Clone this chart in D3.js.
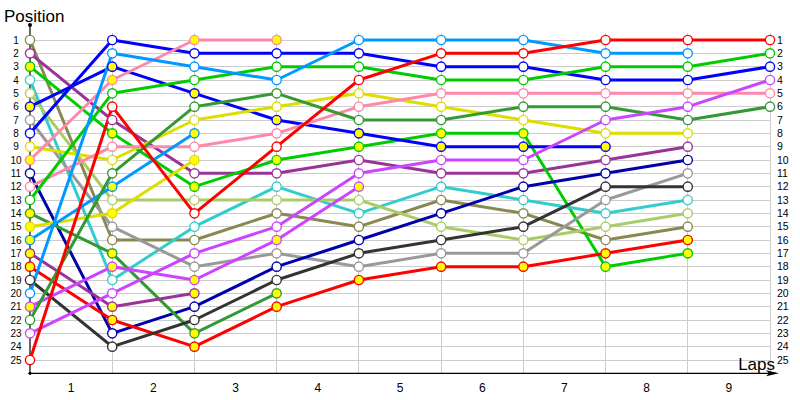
<!DOCTYPE html>
<html>
<head>
<meta charset="utf-8">
<script src="https://cdn.jsdelivr.net/npm/d3@7"></script>
<style>
  html, body { margin: 0; padding: 0; background: #fff; }
  svg { display: block; }
</style>
</head>
<body>
<svg id="chart" width="800" height="400"></svg>
<script>
// ---- data ----
const lapLabels = ["1", "2", "3", "4", "5", "6", "7", "8", "9"];
const positionLabels = d3.range(1, 26);

// positions per lap (lap 0 = start), series end when they stop
const olive       = [1, 16, 16, 14, 15, 13, 14, 16, 15];
const purpleA     = [2, 7, 11, 11, 10, 11, 11, 10, 9];
const greenB      = [3, 8, 12, 10, 9, 8, 8, 18, 17];
const cyan        = [4, 19, 15, 12, 14, 12, 13, 14, 13];
const lightOlive  = [5, 13, 13, 13, 13, 15, 16, 15, 14];
const blueB       = [6, 3, 5, 7, 8, 9, 9, 9];
const gray        = [7, 15, 18, 17, 18, 17, 17, 13, 11];
const blueA       = [8, 1, 2, 2, 2, 3, 3, 4, 4, 3];
const yellowA     = [9, 10, 7, 6, 5, 6, 7, 8, 8];
const pinkB       = [10, 4, 1, 1];
const darkBlue    = [11, 23, 21, 18, 16, 14, 12, 11, 10];
const pinkA       = [12, 9, 9, 8, 6, 5, 5, 5, 5, 5];
const greenA      = [13, 5, 4, 3, 3, 4, 4, 3, 3, 2];
const darkGreenB  = [14, 17, 23, 20];
const yellowB     = [15, 14, 10];
const lightBlueB  = [16, 12, 8];
const purpleB     = [17, 21, 20];
const redB        = [18, 22, 24, 21, 19, 18, 18, 17, 16];
const darkGray    = [19, 24, 22, 19, 17, 16, 15, 12, 12];
const lightBlueA  = [20, 2, 3, 4, 1, 1, 1, 2, 2];
const magentaB    = [21, 18, 19, 16, 12];
const darkGreenA  = [22, 11, 6, 5, 7, 7, 6, 6, 7, 6];
const magentaA    = [23, 20, 17, 15, 11, 10, 10, 7, 6, 4];
const redA        = [25, 6, 14, 9, 4, 2, 2, 1, 1, 1];

// second driver of a team (drawn with filled markers)
const seriesList = [
  {name: "olive", values: olive, second: false},
  {name: "purple", values: purpleA, second: false},
  {name: "green", values: greenB, second: true},
  {name: "cyan", values: cyan, second: false},
  {name: "lightOlive", values: lightOlive, second: false},
  {name: "blue", values: blueB, second: true},
  {name: "gray", values: gray, second: false},
  {name: "blue", values: blueA, second: false},
  {name: "yellow", values: yellowA, second: false},
  {name: "pink", values: pinkB, second: true},
  {name: "darkBlue", values: darkBlue, second: false},
  {name: "pink", values: pinkA, second: false},
  {name: "green", values: greenA, second: false},
  {name: "darkGreen", values: darkGreenB, second: true},
  {name: "yellow", values: yellowB, second: true},
  {name: "lightBlue", values: lightBlueB, second: true},
  {name: "purple", values: purpleB, second: true},
  {name: "red", values: redB, second: true},
  {name: "darkGray", values: darkGray, second: false},
  {name: "lightBlue", values: lightBlueA, second: false},
  {name: "magenta", values: magentaB, second: true},
  {name: "darkGreen", values: darkGreenA, second: false},
  {name: "magenta", values: magentaA, second: false},
  {name: "red", values: redA, second: false}
];

// ---- styles ----
const colorOf = {
  olive: "#888850", purple: "#993399", green: "#00cc00", cyan: "#33cccc",
  lightOlive: "#aacc66", blue: "#0000ff", gray: "#999999", yellow: "#dddd00",
  pink: "#ff88aa", darkBlue: "#0000aa", darkGreen: "#339933", red: "#ff0000",
  darkGray: "#333333", lightBlue: "#0099ff", magenta: "#cc44ff"
};

const svg = d3.select("#chart");
const x = d3.scaleLinear().domain([0, 9]).range([30, 770]);
const y = d3.scaleLinear().domain([1, 25]).range([40, 360]);
const axisY = y(26);

// grid
const grid = svg.append("g");
grid.selectAll("line.h").data(positionLabels).join("line")
  .attr("x1", x(0)).attr("x2", x(9))
  .attr("y1", d => y(d)).attr("y2", d => y(d))
  .attr("stroke", "#cccccc").attr("stroke-width", 1).attr("shape-rendering", "crispEdges");
grid.selectAll("line.v").data(d3.range(1, 10)).join("line")
  .attr("x1", d => x(d)).attr("x2", d => x(d))
  .attr("y1", y(1) - 7).attr("y2", axisY)
  .attr("stroke", "#cccccc").attr("stroke-width", 1).attr("shape-rendering", "crispEdges");

// axes
const ax = svg.append("g");
ax.append("line").attr("x1", x(0)).attr("x2", x(0)).attr("y1", 25).attr("y2", axisY)
  .attr("stroke", "#000").attr("stroke-width", 1.2);
ax.append("circle").attr("cx", x(0)).attr("cy", 25).attr("r", 2).attr("fill", "#000");
ax.append("circle").attr("cx", x(0)).attr("cy", axisY).attr("r", 1.6).attr("fill", "#000");
ax.append("line").attr("x1", x(0)).attr("x2", 776).attr("y1", axisY).attr("y2", axisY)
  .attr("stroke", "#000").attr("stroke-width", 1.2);
ax.append("path").attr("d", `M779,${axisY} L766,${axisY - 3} L769,${axisY} L766,${axisY + 3} Z`)
  .attr("fill", "#000");

// tick labels
const font = "'Liberation Sans', Arial, sans-serif";
ax.selectAll("text.l").data(positionLabels).join("text")
  .attr("x", 16).attr("y", d => y(d) + 3.6)
  .attr("text-anchor", "middle").attr("font-family", font).attr("font-size", 10)
  .attr("fill", "#000").text(d => d);
ax.selectAll("text.r").data(positionLabels).join("text")
  .attr("x", 777).attr("y", d => y(d) + 3.6)
  .attr("text-anchor", "start").attr("font-family", font).attr("font-size", 10.5)
  .attr("fill", "#000").text(d => d);
ax.selectAll("text.lap").data(lapLabels).join("text")
  .attr("x", (d, i) => x(i + 0.5)).attr("y", 392)
  .attr("text-anchor", "middle").attr("font-family", font).attr("font-size", 12)
  .attr("fill", "#000").text(d => d);

ax.append("text").attr("x", 4).attr("y", 22).attr("font-family", font)
  .attr("font-size", 17).attr("fill", "#000").text("Position");
ax.append("text").attr("x", 775).attr("y", 370).attr("text-anchor", "end").attr("font-family", font)
  .attr("font-size", 17).attr("fill", "#000").text("Laps");

// lines
const line = d3.line().x((d, i) => x(i)).y(d => y(d));
const lines = svg.append("g");
lines.selectAll("path").data(seriesList).join("path")
  .attr("d", s => line(s.values))
  .attr("fill", "none")
  .attr("stroke", s => colorOf[s.name])
  .attr("stroke-width", 3)
  .attr("stroke-linejoin", "round");

// markers
const marks = svg.append("g");
seriesList.forEach(s => {
  marks.append("g").selectAll("circle").data(s.values).join("circle")
    .attr("cx", (d, i) => x(i)).attr("cy", d => y(d)).attr("r", 4.6)
    .attr("fill", s.second ? "#ffff00" : "#ffffff")
    .attr("stroke", colorOf[s.name]).attr("stroke-width", 1.4);
});
</script>
</body>
</html>
